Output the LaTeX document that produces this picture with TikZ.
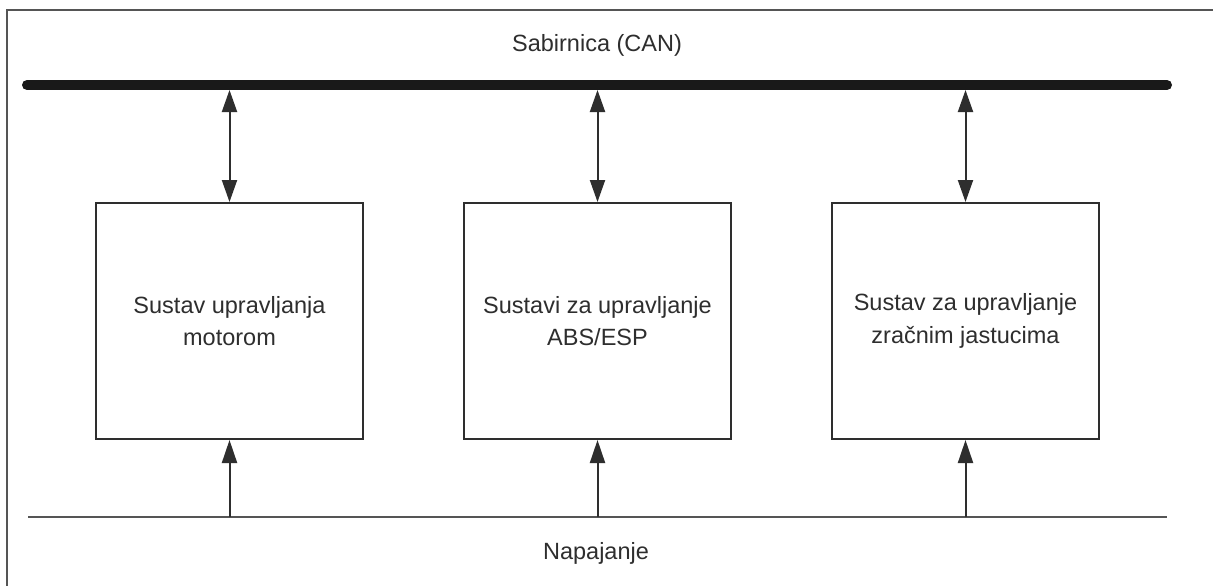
\documentclass[tikz,border=0pt]{standalone}
\usepackage{fontspec}
\setmainfont{Liberation Sans}
\usetikzlibrary{arrows.meta}
\definecolor{ink}{HTML}{2e2e2e}
\definecolor{frame}{HTML}{555555}
\begin{document}
\begin{tikzpicture}[x=1pt,y=-1pt,
  unit/.style={draw=ink,line width=2pt,minimum width=267pt,minimum height=236pt,
    inner sep=0pt,align=center,text=ink,font=\fontsize{23.5}{32.5}\selectfont},
  lbl/.style={text=ink,font=\fontsize{23.5}{28}\selectfont,inner sep=0pt},
  link/.style={draw=ink,line width=2pt},
  tip/.style={-{Triangle[length=23pt,width=15pt]}},
  dtip/.style={{Triangle[length=22pt,width=15pt]}-{Triangle[length=22pt,width=15pt]}}]
\useasboundingbox (0,0) rectangle (1213,586);
\fill[white] (0,0) rectangle (1213,586);
% frame
\draw[frame,line width=2pt] (7,586) -- (7,10) -- (1213,10);
% bus
\coordinate (busL) at (27,85);
\coordinate (busR) at (1167,85);
\draw[black!90,line width=10pt,line cap=round] (busL) -- (busR);
\node[lbl] (can) at (597,45) {Sabirnica (CAN)};
% power line
\coordinate (pwL) at (28,517);
\coordinate (pwR) at (1167,517);
\draw[frame,line width=2.6pt] (pwL) -- (pwR);
\node[lbl] (pw) at (596,553) {Napajanje};
% boxes
\node[unit] (m1) at (229.5,321) {Sustav upravljanja\\motorom};
\node[unit] (m2) at (597.5,321) {Sustavi za upravljanje\\ABS/ESP};
\node[unit] (m3) at (965.5,321) {Sustav za upravljanje\\zračnim jastucima};
% bus taps
\foreach \i/\x in {1/229.5,2/597.5,3/965.5}{
  \coordinate (t\i) at (\x,90);
  \coordinate (p\i) at (\x,517);
  \draw[link,dtip] (t\i) -- (m\i.north);
  \draw[link,tip] (p\i) -- (m\i.south);
}
\end{tikzpicture}
\end{document}
